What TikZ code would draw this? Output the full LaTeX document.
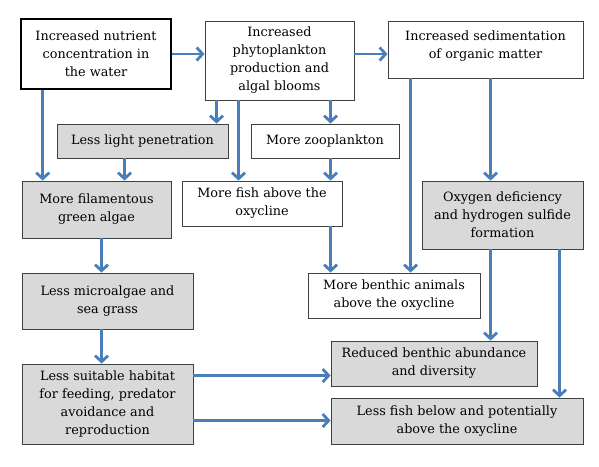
\documentclass[tikz,border=0pt]{standalone}
\usepackage{fontspec}
\setmainfont{DejaVu Serif}
\usetikzlibrary{arrows.meta}
\definecolor{arrowblue}{HTML}{4A7EBB}
\definecolor{boxgrey}{HTML}{D9D9D9}
\definecolor{boxline}{HTML}{404040}

\begin{document}
\begin{tikzpicture}[x=1pt, y=-1pt,
  every node/.style={font=\fontsize{12.8}{18}\selectfont, align=center, inner sep=0pt},
  box/.style={draw=boxline, line width=0.9pt, fill=white},
  grey/.style={box, fill=boxgrey},
  flow/.style={draw=arrowblue, line width=2.8pt, -{Straight Barb[length=6pt,width=13pt]}}]
\useasboundingbox (0,0) rectangle (599,466);

% top row
\node[box, draw=black, line width=2.6pt, minimum width=150, minimum height=70] (nutrient) at (96,54)
  {Increased nutrient\\concentration in\\the water};
\node[box, minimum width=149, minimum height=79] (phyto) at (279.5,60.5)
  {Increased\\phytoplankton\\production and\\algal blooms};
\node[box, minimum width=195, minimum height=57] (sediment) at (485.5,49.5)
  {Increased sedimentation\\of organic matter\\[-9pt]};

% second row
\node[grey, minimum width=171, minimum height=34] (light) at (142.5,141) {Less light penetration};
\node[box, minimum width=148, minimum height=34] (zoo) at (325,141) {More zooplankton};

% third row
\node[grey, minimum width=149, minimum height=57] (filament) at (96.5,209.5)
  {More filamentous\\green algae};
\node[box, minimum width=160, minimum height=45] (fishabove) at (262,203.5)
  {More fish above the\\oxycline};
\node[grey, minimum width=161, minimum height=68] (oxygen) at (502.5,215)
  {Oxygen deficiency\\and hydrogen sulfide\\formation};

% fourth row
\node[grey, minimum width=171, minimum height=56] (microalgae) at (107.5,301)
  {Less microalgae and\\sea grass};
\node[box, minimum width=172, minimum height=45] (benthic) at (394,295.5)
  {More benthic animals\\above the oxycline};

% bottom
\node[grey, minimum width=171, minimum height=80] (habitat) at (107.5,404)
  {Less suitable habitat\\for feeding, predator\\avoidance and\\reproduction};
\node[grey, minimum width=206, minimum height=45] (abundance) at (434,363.5)
  {Reduced benthic abundance\\and diversity};
\node[grey, minimum width=252, minimum height=46] (fishbelow) at (457,421)
  {Less fish below and potentially\\above the oxycline};

% connectors
\draw[flow] (nutrient.east) -- (nutrient.east -| phyto.west);
\draw[flow] (nutrient.east -| phyto.east) -- (nutrient.east -| sediment.west);
\draw[flow] ([xshift=23pt]nutrient.south west) -- ([xshift=23pt]nutrient.south west |- filament.north);
\draw[flow] ([xshift=12pt]phyto.south west) -- ([xshift=12pt]phyto.south west |- light.north);
\draw[flow] ([xshift=34pt]phyto.south west) -- ([xshift=34pt]phyto.south west |- fishabove.north);
\draw[flow] ([xshift=126pt]phyto.south west) -- ([xshift=126pt]phyto.south west |- zoo.north);
\draw[flow] ([xshift=68pt]light.south west) -- ([xshift=68pt]light.south west |- filament.north);
\draw[flow] ([xshift=80pt]zoo.south west) -- ([xshift=80pt]zoo.south west |- fishabove.north);
\draw[flow] ([xshift=149pt]fishabove.south west) -- ([xshift=149pt]fishabove.south west |- benthic.north);
\draw[flow] ([xshift=23pt]sediment.south west) -- ([xshift=23pt]sediment.south west |- benthic.north);
\draw[flow] ([xshift=103pt]sediment.south west) -- ([xshift=103pt]sediment.south west |- oxygen.north);
\draw[flow] ([xshift=69pt]oxygen.south west) -- ([xshift=69pt]oxygen.south west |- abundance.north);
\draw[flow] ([xshift=138pt]oxygen.south west) -- ([xshift=138pt]oxygen.south west |- fishbelow.north);
\draw[flow] ([xshift=80pt]filament.south west) -- ([xshift=80pt]filament.south west |- microalgae.north);
\draw[flow] ([xshift=80pt]microalgae.south west) -- ([xshift=80pt]microalgae.south west |- habitat.north);
\draw[flow] ([yshift=-12pt]habitat.north east) -- ([yshift=-12pt]habitat.north east -| abundance.west);
\draw[flow] ([yshift=-57pt]habitat.north east) -- ([yshift=-57pt]habitat.north east -| fishbelow.west);
\end{tikzpicture}
\end{document}
